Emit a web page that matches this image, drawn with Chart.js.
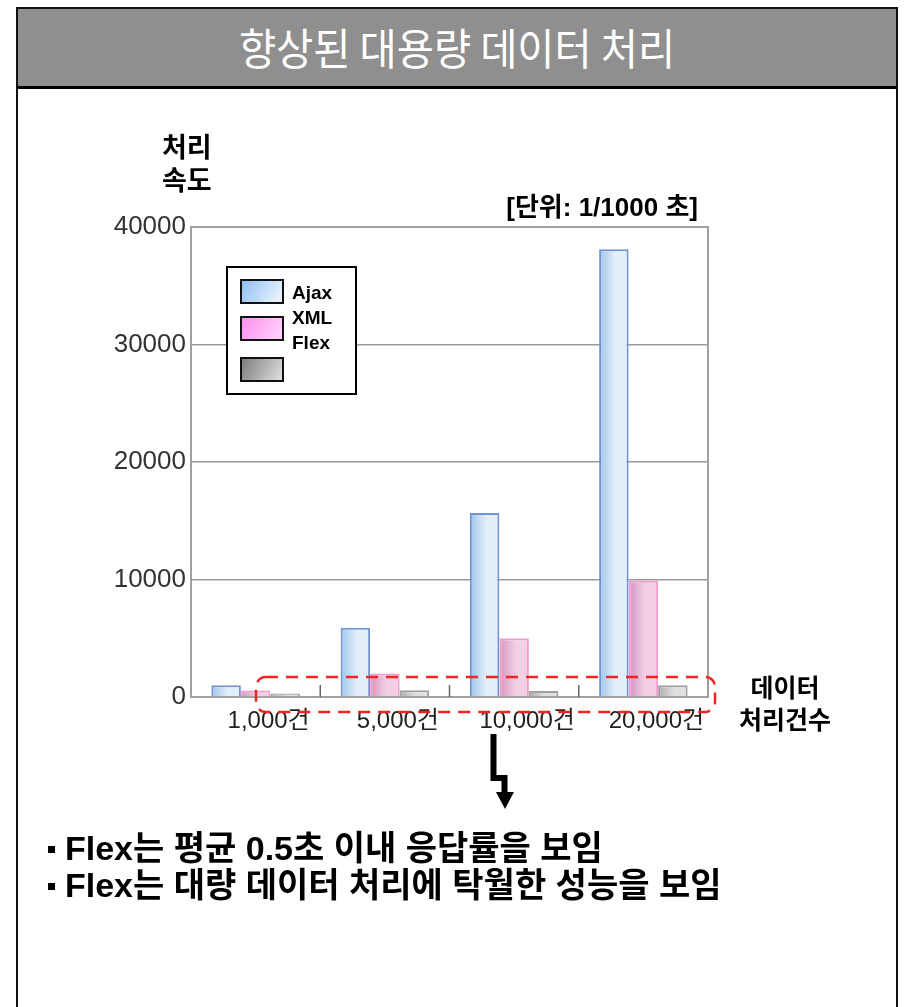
<!DOCTYPE html>
<html><head><meta charset="utf-8">
<script src="https://cdn.jsdelivr.net/npm/chart.js@4/dist/chart.umd.min.js"></script>
<style>
html,body{margin:0;padding:0;background:#fff;width:905px;height:1007px;overflow:hidden;font-family:"Liberation Sans","Noto Sans CJK KR",sans-serif;}
#frame{position:absolute;left:16px;top:7px;width:878px;height:1100px;border:2px solid #111;}
#titlebar{position:absolute;left:18px;top:9px;width:878px;height:77px;background:#8f8f8f;border-bottom:3px solid #000;}
#title{position:absolute;left:0;top:0;width:100%;height:77px;line-height:74px;text-align:center;color:#fff;font-size:43px;font-family:"Noto Sans CJK KR",sans-serif;}
#title span{display:inline-block;transform:scaleX(0.94);}
#cv{position:absolute;left:0;top:0;}
.t{position:absolute;white-space:nowrap;color:#000;}
#ylab{left:162px;top:129px;font:bold 27px/33px "Noto Sans CJK KR",sans-serif;}
#unit{right:207px;top:192px;font:bold 26px/30px "Liberation Sans","Noto Sans CJK KR",sans-serif;}
#xlab{left:735px;top:670px;width:100px;text-align:center;font:bold 25px/32px "Noto Sans CJK KR",sans-serif;}
#bul{left:45px;top:830px;font:bold 34px/37px "Liberation Sans","Noto Sans CJK KR",sans-serif;}
#bul div{position:relative;padding-left:20px;}
#bul div:before{content:"";position:absolute;left:3px;top:16px;width:7px;height:7px;background:#000;}
svg{position:absolute;left:0;top:0;}
</style></head><body>
<div id="frame"></div>
<div id="titlebar"><div id="title"><span>향상된 대용량 데이터 처리</span></div></div>
<canvas id="cv" width="905" height="1007"></canvas>
<div class="t" id="ylab">처리<br>속도</div>
<div class="t" id="unit">[단위: 1/1000 초]</div>
<div class="t" id="xlab">데이터<br>처리건수</div>
<svg width="905" height="1007">
  <polyline points="493.5,734 493.5,778 504.5,778 504.5,793" fill="none" stroke="#000" stroke-width="6" stroke-linejoin="miter"/>
  <polygon points="496,792 514,792 505,809" fill="#000"/>
</svg>
<div class="t" id="bul"><div>Flex는 평균 0.5초 이내 응답률을 보임</div><div>Flex는 대량 데이터 처리에 탁월한 성능을 보임</div></div>
<script>
const categories = ['1,000건', '5,000건', '10,000건', '20,000건'];
const seriesNames = ['Ajax', 'XML', 'Flex'];
const ajaxValues = [1000, 5900, 15650, 38100];
const xmlValues = [550, 2000, 5000, 9900];
const flexValues = [300, 580, 520, 1000];
const yTicks = [0, 10000, 20000, 30000, 40000];

const barStyles = [
  {border: '#7394d4', dark: '#9ec4ec', light: '#e2eef9'},
  {border: '#f29ccb', dark: '#d494c0', light: '#f2cfe5'},
  {border: '#a0a0a0', dark: '#aeaeae', light: '#e0e0e0'}
];
const legendStyles = [
  ['#8cbef2', '#f4f9ff'],
  ['#ff8ef0', '#ffd6fb'],
  ['#7a7a7a', '#e4e4e4']
];

function barFill(ctx) {
  const chart = ctx.chart;
  const st = barStyles[ctx.datasetIndex];
  const meta = chart.getDatasetMeta(ctx.datasetIndex);
  const el = meta && meta.data ? meta.data[ctx.dataIndex] : null;
  if (!el || !isFinite(el.x) || !isFinite(el.width)) return st.light;
  const g = chart.ctx.createLinearGradient(el.x - el.width / 2, 0, el.x + el.width / 2, 0);
  g.addColorStop(0, st.dark);
  g.addColorStop(0.55, st.light);
  g.addColorStop(1, st.light);
  return g;
}

const deco = {
  id: 'deco',
  beforeDatasetsDraw(chart) {
    const {ctx, chartArea: a} = chart;
    ctx.save();
    ctx.strokeStyle = '#a0a0a0';
    ctx.lineWidth = 2;
    ctx.strokeRect(a.left, a.top, a.right - a.left, a.bottom - a.top);
    ctx.restore();
  },
  afterDraw(chart) {
    const {ctx, chartArea: a} = chart;
    const xs = chart.scales.x;
    ctx.save();
    ctx.strokeStyle = '#666';
    ctx.lineWidth = 1.5;
    for (let i = 0; i < categories.length - 1; i++) {
      const bx = (xs.getPixelForValue(i) + xs.getPixelForValue(i + 1)) / 2;
      ctx.beginPath(); ctx.moveTo(bx, a.bottom - 12); ctx.lineTo(bx, a.bottom); ctx.stroke();
    }
    ctx.fillStyle = '#222';
    ctx.font = '24px "Liberation Sans", "Noto Sans CJK KR", sans-serif';
    ctx.textAlign = 'center';
    ctx.textBaseline = 'middle';
    categories.forEach((c, i) => ctx.fillText(c, xs.getPixelForValue(i) + 13, a.bottom + 24));
    const lx = 227, ly = 267, lw = 129, lh = 127;
    ctx.fillStyle = '#fff';
    ctx.fillRect(lx, ly, lw, lh);
    ctx.strokeStyle = '#000';
    ctx.lineWidth = 2;
    ctx.strokeRect(lx, ly, lw, lh);
    const swY = [280, 317, 358];
    const txY = [294, 319, 344];
    chart.data.datasets.forEach((ds, i) => {
      const g = ctx.createLinearGradient(241, swY[i], 283, swY[i] + 23);
      g.addColorStop(0, legendStyles[i][0]);
      g.addColorStop(1, legendStyles[i][1]);
      ctx.fillStyle = g;
      ctx.fillRect(241, swY[i], 42, 23);
      ctx.strokeStyle = '#111';
      ctx.lineWidth = 2;
      ctx.strokeRect(241, swY[i], 42, 23);
      ctx.fillStyle = '#000';
      ctx.font = 'bold 19px "Liberation Sans", sans-serif';
      ctx.textAlign = 'left';
      ctx.textBaseline = 'middle';
      ctx.fillText(ds.label, 292, txY[i]);
    });
    ctx.strokeStyle = '#f02424';
    ctx.lineWidth = 2.5;
    ctx.setLineDash([12, 8]);
    ctx.beginPath();
    ctx.roundRect(256, 677, 459, 35, 10);
    ctx.stroke();
    ctx.restore();
  }
};

const datasets = [ajaxValues, xmlValues, flexValues].map((vals, i) => ({
  label: seriesNames[i],
  data: vals,
  backgroundColor: barFill,
  borderColor: barStyles[i].border,
  borderWidth: 2,
  borderSkipped: 'bottom',
  categoryPercentage: 0.685,
  barPercentage: 1.0
}));

const chart = new Chart(document.getElementById('cv'), {
  type: 'bar',
  data: {labels: categories, datasets},
  options: {
    responsive: false,
    animation: false,
    layout: {padding: {left: 0, top: 227, right: 197, bottom: 310}},
    plugins: {legend: {display: false}, tooltip: {enabled: false}},
    scales: {
      x: {
        ticks: {display: false},
        grid: {display: false, drawTicks: false},
        border: {display: false},
        afterFit(s) { s.height = 0; }
      },
      y: {
        min: 0, max: 40000,
        afterBuildTicks(s) { s.ticks = yTicks.map(v => ({value: v})); },
        ticks: {color: '#333', padding: 5, font: {size: 26, family: '"Liberation Sans", sans-serif'}, callback: v => String(v)},
        grid: {color: '#999', lineWidth: 1.5, drawTicks: false},
        border: {display: false},
        afterFit(s) { s.width = 191; }
      }
    }
  },
  plugins: [deco]
});
chart.update('none');
</script>
</body></html>
